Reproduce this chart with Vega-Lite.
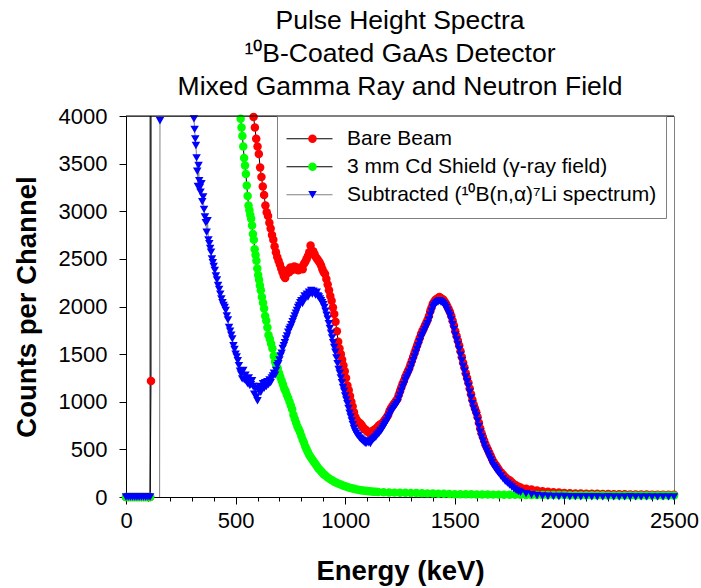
{
"$schema": "https://vega.github.io/schema/vega-lite/v6.json",
"width": 548, "height": 381,
"autosize": {"type": "none"},
"padding": {"left": 126, "top": 116, "right": 27, "bottom": 91},
"background": "white",
"config": {
 "font": "Liberation Sans",
 "view": {"stroke": "#808080", "strokeWidth": 1},
 "axis": {"labelFont": "Liberation Sans", "titleFont": "Liberation Sans", "domainColor": "black", "tickColor": "black", "labelColor": "black", "titleColor": "black", "grid": false, "labelFlush": false, "labelOverlap": false, "domainWidth": 1, "tickWidth": 1},
 "legend": {"labelFont": "Liberation Sans"}
},
"title": {"text": ["Pulse Height Spectra", "¹⁰B-Coated GaAs Detector", "Mixed Gamma Ray and Neutron Field"], "font": "Liberation Sans", "fontSize": 26.5, "fontWeight": "normal", "color": "black", "lineHeight": 33, "offset": 5},
"data": {"values": [
{"s":"a","e":0,"c":0},{"s":"a","e":10,"c":0},{"s":"a","e":20,"c":0},{"s":"a","e":30,"c":0},{"s":"a","e":40,"c":0},{"s":"a","e":50,"c":0},{"s":"a","e":60,"c":0},{"s":"a","e":70,"c":0},{"s":"a","e":80,"c":0},{"s":"a","e":90,"c":0},{"s":"a","e":100,"c":0},{"s":"a","e":110,"c":0},
{"s":"a","e":114,"c":1218},{"s":"a","e":118,"c":90000},{"s":"a","e":200,"c":60000},{"s":"a","e":300,"c":30000},{"s":"a","e":400,"c":15000},{"s":"a","e":480,"c":9000},{"s":"a","e":530,"c":6000},{"s":"a","e":560,"c":4800},{"s":"a","e":575,"c":4300},
{"s":"a","e":582,"c":3990},{"s":"a","e":588,"c":3880},{"s":"a","e":594,"c":3760},{"s":"a","e":600,"c":3680},{"s":"a","e":606,"c":3600},{"s":"a","e":612,"c":3460},{"s":"a","e":618,"c":3360},{"s":"a","e":624,"c":3260},{"s":"a","e":630,"c":3170},{"s":"a","e":636,"c":3060},{"s":"a","e":642,"c":2990},{"s":"a","e":648,"c":2950},{"s":"a","e":654,"c":2880},{"s":"a","e":660,"c":2820},{"s":"a","e":666,"c":2750},{"s":"a","e":672,"c":2700},{"s":"a","e":678,"c":2630},{"s":"a","e":684,"c":2570},{"s":"a","e":690,"c":2520},{"s":"a","e":696,"c":2480},{"s":"a","e":702,"c":2440},{"s":"a","e":708,"c":2400},{"s":"a","e":714,"c":2360},{"s":"a","e":720,"c":2320},{"s":"a","e":726,"c":2300},{"s":"a","e":732,"c":2340},{"s":"a","e":738,"c":2380},{"s":"a","e":744,"c":2360},{"s":"a","e":750,"c":2410},{"s":"a","e":756,"c":2380},{"s":"a","e":762,"c":2400},{"s":"a","e":768,"c":2420},{"s":"a","e":774,"c":2390},{"s":"a","e":780,"c":2410},{"s":"a","e":786,"c":2380},{"s":"a","e":792,"c":2400},{"s":"a","e":798,"c":2410},
{"s":"a","e":806,"c":2390},{"s":"a","e":812,"c":2450},{"s":"a","e":818,"c":2470},{"s":"a","e":824,"c":2500},{"s":"a","e":830,"c":2530},{"s":"a","e":836,"c":2570},{"s":"a","e":842,"c":2640},{"s":"a","e":848,"c":2560},{"s":"a","e":854,"c":2580},{"s":"a","e":860,"c":2550},{"s":"a","e":866,"c":2520},{"s":"a","e":872,"c":2500},{"s":"a","e":878,"c":2480},{"s":"a","e":884,"c":2460},{"s":"a","e":890,"c":2430},{"s":"a","e":896,"c":2390},
{"s":"a","e":902,"c":2360},{"s":"a","e":908,"c":2340},{"s":"a","e":914,"c":2290},{"s":"a","e":920,"c":2230},{"s":"a","e":926,"c":2170},{"s":"a","e":932,"c":2110},{"s":"a","e":938,"c":2060},{"s":"a","e":944,"c":1990},{"s":"a","e":950,"c":1920},{"s":"a","e":956,"c":1840},{"s":"a","e":962,"c":1740},{"s":"a","e":968,"c":1630},{"s":"a","e":974,"c":1560},{"s":"a","e":980,"c":1500},{"s":"a","e":986,"c":1440},{"s":"a","e":992,"c":1380},{"s":"a","e":998,"c":1320},{"s":"a","e":1004,"c":1250},{"s":"a","e":1010,"c":1170},{"s":"a","e":1016,"c":1120},{"s":"a","e":1022,"c":1060},{"s":"a","e":1028,"c":1000},{"s":"a","e":1034,"c":950},{"s":"a","e":1040,"c":890},{"s":"a","e":1046,"c":840},{"s":"a","e":1052,"c":810},{"s":"a","e":1058,"c":790},{"s":"a","e":1064,"c":780},{"s":"a","e":1070,"c":770},{"s":"a","e":1076,"c":750},{"s":"a","e":1082,"c":730},{"s":"a","e":1088,"c":710},{"s":"a","e":1094,"c":705},{"s":"a","e":1100,"c":690},{"s":"a","e":1106,"c":680},{"s":"a","e":1112,"c":670},{"s":"a","e":1118,"c":680},{"s":"a","e":1124,"c":690},{"s":"a","e":1130,"c":700},{"s":"a","e":1136,"c":710},{"s":"a","e":1142,"c":720},{"s":"a","e":1148,"c":735},{"s":"a","e":1154,"c":750},{"s":"a","e":1160,"c":760},{"s":"a","e":1166,"c":770},{"s":"a","e":1172,"c":780},{"s":"a","e":1178,"c":800},{"s":"a","e":1184,"c":820},{"s":"a","e":1190,"c":840},{"s":"a","e":1196,"c":860},
{"s":"a","e":1202,"c":900},{"s":"a","e":1208,"c":930},{"s":"a","e":1214,"c":950},{"s":"a","e":1220,"c":970},{"s":"a","e":1226,"c":990},{"s":"a","e":1232,"c":1010},{"s":"a","e":1238,"c":1030},{"s":"a","e":1244,"c":1070},{"s":"a","e":1250,"c":1110},{"s":"a","e":1256,"c":1150},{"s":"a","e":1262,"c":1190},{"s":"a","e":1268,"c":1220},{"s":"a","e":1274,"c":1260},{"s":"a","e":1280,"c":1290},{"s":"a","e":1286,"c":1320},{"s":"a","e":1292,"c":1350},{"s":"a","e":1298,"c":1390},{"s":"a","e":1304,"c":1430},{"s":"a","e":1310,"c":1470},{"s":"a","e":1316,"c":1510},{"s":"a","e":1322,"c":1550},{"s":"a","e":1328,"c":1590},{"s":"a","e":1334,"c":1630},{"s":"a","e":1340,"c":1670},{"s":"a","e":1346,"c":1710},{"s":"a","e":1352,"c":1740},{"s":"a","e":1358,"c":1770},{"s":"a","e":1364,"c":1800},{"s":"a","e":1370,"c":1830},{"s":"a","e":1376,"c":1860},{"s":"a","e":1382,"c":1900},{"s":"a","e":1388,"c":1950},{"s":"a","e":1394,"c":1990},{"s":"a","e":1400,"c":2030},{"s":"a","e":1406,"c":2050},{"s":"a","e":1412,"c":2070},{"s":"a","e":1418,"c":2080},{"s":"a","e":1424,"c":2090},{"s":"a","e":1430,"c":2100},{"s":"a","e":1436,"c":2090},{"s":"a","e":1442,"c":2080},{"s":"a","e":1448,"c":2070},{"s":"a","e":1454,"c":2050},{"s":"a","e":1460,"c":2030},{"s":"a","e":1466,"c":2000},{"s":"a","e":1472,"c":1970},{"s":"a","e":1478,"c":1940},{"s":"a","e":1484,"c":1900},{"s":"a","e":1490,"c":1850},{"s":"a","e":1496,"c":1800},{"s":"a","e":1502,"c":1740},{"s":"a","e":1508,"c":1690},{"s":"a","e":1514,"c":1640},{"s":"a","e":1520,"c":1590},{"s":"a","e":1526,"c":1530},{"s":"a","e":1532,"c":1470},{"s":"a","e":1538,"c":1410},{"s":"a","e":1544,"c":1360},{"s":"a","e":1550,"c":1300},{"s":"a","e":1556,"c":1250},{"s":"a","e":1562,"c":1200},{"s":"a","e":1568,"c":1140},{"s":"a","e":1574,"c":1080},{"s":"a","e":1580,"c":1020},{"s":"a","e":1586,"c":970},{"s":"a","e":1592,"c":930},{"s":"a","e":1598,"c":890},{"s":"a","e":1604,"c":840},{"s":"a","e":1610,"c":780},{"s":"a","e":1616,"c":720},{"s":"a","e":1622,"c":670},{"s":"a","e":1628,"c":630},{"s":"a","e":1634,"c":590},{"s":"a","e":1640,"c":550},{"s":"a","e":1646,"c":520},{"s":"a","e":1652,"c":490},{"s":"a","e":1658,"c":460},{"s":"a","e":1664,"c":430},{"s":"a","e":1670,"c":400},{"s":"a","e":1676,"c":370},{"s":"a","e":1682,"c":350},{"s":"a","e":1688,"c":330},{"s":"a","e":1694,"c":310},{"s":"a","e":1700,"c":290},
{"s":"a","e":1710,"c":260},{"s":"a","e":1720,"c":235},{"s":"a","e":1730,"c":210},{"s":"a","e":1740,"c":190},{"s":"a","e":1750,"c":175},{"s":"a","e":1760,"c":155},{"s":"a","e":1770,"c":135},{"s":"a","e":1780,"c":120},{"s":"a","e":1790,"c":108},{"s":"a","e":1800,"c":100},{"s":"a","e":1825,"c":88},{"s":"a","e":1850,"c":78},{"s":"a","e":1875,"c":68},{"s":"a","e":1900,"c":60},{"s":"a","e":1925,"c":55},{"s":"a","e":1950,"c":51},{"s":"a","e":1975,"c":47},{"s":"a","e":2000,"c":43},{"s":"a","e":2025,"c":40},{"s":"a","e":2050,"c":38},{"s":"a","e":2075,"c":36},{"s":"a","e":2100,"c":35},{"s":"a","e":2125,"c":34},{"s":"a","e":2150,"c":33},{"s":"a","e":2175,"c":32},{"s":"a","e":2200,"c":31},{"s":"a","e":2225,"c":30},{"s":"a","e":2250,"c":29},{"s":"a","e":2275,"c":28},{"s":"a","e":2300,"c":27},{"s":"a","e":2325,"c":27},{"s":"a","e":2350,"c":26},{"s":"a","e":2375,"c":26},{"s":"a","e":2400,"c":25},{"s":"a","e":2425,"c":25},{"s":"a","e":2450,"c":24},{"s":"a","e":2475,"c":24},{"s":"a","e":2500,"c":23},
{"s":"b","e":0,"c":0},{"s":"b","e":10,"c":0},{"s":"b","e":20,"c":0},{"s":"b","e":30,"c":0},{"s":"b","e":40,"c":0},{"s":"b","e":50,"c":0},{"s":"b","e":60,"c":0},{"s":"b","e":70,"c":0},{"s":"b","e":80,"c":0},{"s":"b","e":90,"c":0},{"s":"b","e":100,"c":0},{"s":"b","e":110,"c":0},
{"s":"b","e":114,"c":90000},{"s":"b","e":200,"c":60000},{"s":"b","e":300,"c":30000},{"s":"b","e":400,"c":14000},{"s":"b","e":480,"c":7000},{"s":"b","e":515,"c":4500},
{"s":"b","e":523,"c":3970},{"s":"b","e":527,"c":3880},{"s":"b","e":531,"c":3790},{"s":"b","e":535,"c":3680},{"s":"b","e":539,"c":3560},{"s":"b","e":543,"c":3480},{"s":"b","e":547,"c":3390},{"s":"b","e":551,"c":3270},{"s":"b","e":555,"c":3160},{"s":"b","e":559,"c":3060},{"s":"b","e":563,"c":3010},{"s":"b","e":567,"c":2960},{"s":"b","e":571,"c":2920},{"s":"b","e":575,"c":2850},{"s":"b","e":579,"c":2760},{"s":"b","e":583,"c":2700},{"s":"b","e":587,"c":2600},{"s":"b","e":591,"c":2540},{"s":"b","e":595,"c":2480},{"s":"b","e":599,"c":2400},{"s":"b","e":603,"c":2330},{"s":"b","e":607,"c":2280},{"s":"b","e":611,"c":2220},{"s":"b","e":615,"c":2170},{"s":"b","e":620,"c":2100},{"s":"b","e":625,"c":2040},{"s":"b","e":630,"c":1980},{"s":"b","e":635,"c":1900},{"s":"b","e":640,"c":1850},{"s":"b","e":645,"c":1780},{"s":"b","e":650,"c":1700},{"s":"b","e":656,"c":1660},{"s":"b","e":662,"c":1610},{"s":"b","e":668,"c":1560},{"s":"b","e":674,"c":1480},{"s":"b","e":680,"c":1420},{"s":"b","e":686,"c":1380},{"s":"b","e":692,"c":1350},{"s":"b","e":698,"c":1300},{"s":"b","e":704,"c":1260},{"s":"b","e":710,"c":1220},{"s":"b","e":716,"c":1180},{"s":"b","e":722,"c":1140},{"s":"b","e":728,"c":1110},{"s":"b","e":734,"c":1070},{"s":"b","e":740,"c":1040},{"s":"b","e":746,"c":1000},{"s":"b","e":752,"c":960},{"s":"b","e":758,"c":920},{"s":"b","e":764,"c":860},{"s":"b","e":770,"c":820},{"s":"b","e":776,"c":780},{"s":"b","e":782,"c":740},{"s":"b","e":788,"c":710},{"s":"b","e":794,"c":680},{"s":"b","e":800,"c":640},{"s":"b","e":806,"c":600},{"s":"b","e":812,"c":570},{"s":"b","e":818,"c":530},{"s":"b","e":824,"c":500},{"s":"b","e":830,"c":470},{"s":"b","e":836,"c":440},{"s":"b","e":842,"c":420},{"s":"b","e":848,"c":400},{"s":"b","e":854,"c":380},{"s":"b","e":860,"c":360},{"s":"b","e":866,"c":340},{"s":"b","e":872,"c":320},{"s":"b","e":878,"c":300},{"s":"b","e":884,"c":285},{"s":"b","e":890,"c":270},{"s":"b","e":896,"c":255},{"s":"b","e":902,"c":240},{"s":"b","e":910,"c":225},{"s":"b","e":920,"c":205},{"s":"b","e":930,"c":190},{"s":"b","e":940,"c":175},{"s":"b","e":950,"c":160},{"s":"b","e":960,"c":150},{"s":"b","e":970,"c":140},{"s":"b","e":980,"c":130},{"s":"b","e":990,"c":120},{"s":"b","e":1000,"c":112},{"s":"b","e":1010,"c":105},{"s":"b","e":1020,"c":98},{"s":"b","e":1030,"c":92},{"s":"b","e":1040,"c":86},{"s":"b","e":1050,"c":80},{"s":"b","e":1060,"c":76},{"s":"b","e":1070,"c":72},{"s":"b","e":1080,"c":68},{"s":"b","e":1090,"c":65},{"s":"b","e":1100,"c":62},{"s":"b","e":1110,"c":60},{"s":"b","e":1120,"c":58},{"s":"b","e":1130,"c":56},{"s":"b","e":1140,"c":54},
{"s":"b","e":1150,"c":53},{"s":"b","e":1175,"c":50},{"s":"b","e":1200,"c":48},{"s":"b","e":1225,"c":46},{"s":"b","e":1250,"c":45},{"s":"b","e":1275,"c":44},{"s":"b","e":1300,"c":42},{"s":"b","e":1325,"c":41},{"s":"b","e":1350,"c":40},{"s":"b","e":1375,"c":38},{"s":"b","e":1400,"c":36},{"s":"b","e":1425,"c":35},{"s":"b","e":1450,"c":33},{"s":"b","e":1475,"c":32},{"s":"b","e":1500,"c":30},{"s":"b","e":1525,"c":30},{"s":"b","e":1550,"c":29},{"s":"b","e":1575,"c":28},{"s":"b","e":1600,"c":27},{"s":"b","e":1625,"c":27},{"s":"b","e":1650,"c":26},{"s":"b","e":1675,"c":25},{"s":"b","e":1700,"c":25},{"s":"b","e":1725,"c":24},{"s":"b","e":1750,"c":24},{"s":"b","e":1775,"c":23},{"s":"b","e":1800,"c":23},{"s":"b","e":1825,"c":22},{"s":"b","e":1850,"c":22},{"s":"b","e":1875,"c":21},{"s":"b","e":1900,"c":21},{"s":"b","e":1925,"c":20},{"s":"b","e":1950,"c":20},{"s":"b","e":1975,"c":20},{"s":"b","e":2000,"c":20},{"s":"b","e":2025,"c":19},{"s":"b","e":2050,"c":19},{"s":"b","e":2075,"c":19},{"s":"b","e":2100,"c":18},{"s":"b","e":2125,"c":18},{"s":"b","e":2150,"c":18},{"s":"b","e":2175,"c":18},{"s":"b","e":2200,"c":17},{"s":"b","e":2225,"c":17},{"s":"b","e":2250,"c":17},{"s":"b","e":2275,"c":17},{"s":"b","e":2300,"c":17},{"s":"b","e":2325,"c":16},{"s":"b","e":2350,"c":16},{"s":"b","e":2375,"c":16},{"s":"b","e":2400,"c":16},{"s":"b","e":2425,"c":16},{"s":"b","e":2450,"c":15},{"s":"b","e":2475,"c":15},{"s":"b","e":2500,"c":15},
{"s":"c","e":0,"c":0},{"s":"c","e":10,"c":0},{"s":"c","e":20,"c":0},{"s":"c","e":30,"c":0},{"s":"c","e":40,"c":0},{"s":"c","e":50,"c":0},{"s":"c","e":60,"c":0},{"s":"c","e":70,"c":0},{"s":"c","e":80,"c":0},{"s":"c","e":90,"c":0},{"s":"c","e":100,"c":0},{"s":"c","e":110,"c":0},
{"s":"c","e":150,"c":-8000},{"s":"c","e":155,"c":3950},{"s":"c","e":158,"c":90000},{"s":"c","e":220,"c":40000},{"s":"c","e":280,"c":9000},{"s":"c","e":300,"c":5000},{"s":"c","e":306,"c":4300},
{"s":"c","e":310,"c":3970},{"s":"c","e":313,"c":3860},{"s":"c","e":316,"c":3760},{"s":"c","e":319,"c":3690},{"s":"c","e":322,"c":3560},{"s":"c","e":325,"c":3420},{"s":"c","e":328,"c":3260},{"s":"c","e":331,"c":3480},{"s":"c","e":334,"c":3320},{"s":"c","e":337,"c":3250},{"s":"c","e":340,"c":3200},{"s":"c","e":344,"c":3290},{"s":"c","e":348,"c":3100},{"s":"c","e":352,"c":3150},{"s":"c","e":356,"c":3020},{"s":"c","e":360,"c":2940},{"s":"c","e":364,"c":2880},{"s":"c","e":368,"c":2780},{"s":"c","e":372,"c":2900},{"s":"c","e":376,"c":2700},{"s":"c","e":380,"c":2660},{"s":"c","e":384,"c":2610},{"s":"c","e":388,"c":2570},{"s":"c","e":392,"c":2500},{"s":"c","e":396,"c":2460},{"s":"c","e":400,"c":2420},{"s":"c","e":405,"c":2380},{"s":"c","e":410,"c":2320},{"s":"c","e":415,"c":2280},{"s":"c","e":420,"c":2220},{"s":"c","e":425,"c":2180},{"s":"c","e":430,"c":2130},{"s":"c","e":435,"c":2080},{"s":"c","e":440,"c":2040},{"s":"c","e":445,"c":2010},{"s":"c","e":450,"c":1990},{"s":"c","e":455,"c":1960},{"s":"c","e":460,"c":1900},{"s":"c","e":465,"c":1860},{"s":"c","e":470,"c":1780},{"s":"c","e":475,"c":1740},{"s":"c","e":480,"c":1700},{"s":"c","e":485,"c":1660},{"s":"c","e":490,"c":1590},{"s":"c","e":495,"c":1550},{"s":"c","e":500,"c":1500},{"s":"c","e":505,"c":1470},{"s":"c","e":510,"c":1430},{"s":"c","e":515,"c":1380},{"s":"c","e":520,"c":1320},{"s":"c","e":525,"c":1290},{"s":"c","e":530,"c":1240},{"s":"c","e":535,"c":1330},{"s":"c","e":540,"c":1230},{"s":"c","e":545,"c":1280},{"s":"c","e":550,"c":1210},{"s":"c","e":555,"c":1190},{"s":"c","e":560,"c":1250},{"s":"c","e":565,"c":1170},{"s":"c","e":570,"c":1180},{"s":"c","e":575,"c":1220},{"s":"c","e":580,"c":1160},{"s":"c","e":585,"c":1080},{"s":"c","e":590,"c":1140},{"s":"c","e":595,"c":1050},{"s":"c","e":600,"c":1010},{"s":"c","e":605,"c":1120},{"s":"c","e":610,"c":1160},{"s":"c","e":615,"c":1100},{"s":"c","e":620,"c":1150},{"s":"c","e":625,"c":1190},{"s":"c","e":630,"c":1140},{"s":"c","e":635,"c":1200},{"s":"c","e":640,"c":1160},{"s":"c","e":645,"c":1210},{"s":"c","e":650,"c":1180},{"s":"c","e":655,"c":1230},{"s":"c","e":660,"c":1200},{"s":"c","e":665,"c":1250},{"s":"c","e":670,"c":1270},{"s":"c","e":675,"c":1300},{"s":"c","e":680,"c":1280},{"s":"c","e":685,"c":1330},{"s":"c","e":690,"c":1380},{"s":"c","e":695,"c":1400},{"s":"c","e":700,"c":1440},{"s":"c","e":705,"c":1480},{"s":"c","e":710,"c":1510},{"s":"c","e":715,"c":1560},{"s":"c","e":720,"c":1590},{"s":"c","e":725,"c":1620},{"s":"c","e":730,"c":1660},{"s":"c","e":735,"c":1690},{"s":"c","e":740,"c":1730},{"s":"c","e":745,"c":1760},{"s":"c","e":750,"c":1780},{"s":"c","e":755,"c":1810},{"s":"c","e":760,"c":1840},{"s":"c","e":765,"c":1870},{"s":"c","e":770,"c":1900},{"s":"c","e":775,"c":1930},{"s":"c","e":780,"c":1960},{"s":"c","e":785,"c":1990},{"s":"c","e":790,"c":2010},{"s":"c","e":795,"c":2040},{"s":"c","e":800,"c":2060},{"s":"c","e":805,"c":2030},{"s":"c","e":810,"c":2080},{"s":"c","e":815,"c":2110},{"s":"c","e":820,"c":2090},{"s":"c","e":825,"c":2130},{"s":"c","e":830,"c":2100},{"s":"c","e":835,"c":2150},{"s":"c","e":840,"c":2140},{"s":"c","e":845,"c":2170},{"s":"c","e":850,"c":2130},{"s":"c","e":855,"c":2160},{"s":"c","e":860,"c":2140},{"s":"c","e":865,"c":2120},{"s":"c","e":870,"c":2150},{"s":"c","e":875,"c":2110},{"s":"c","e":880,"c":2100},{"s":"c","e":885,"c":2080},{"s":"c","e":890,"c":2060},{"s":"c","e":895,"c":2040},{"s":"c","e":900,"c":2020},{"s":"c","e":905,"c":1990},{"s":"c","e":910,"c":1950},{"s":"c","e":915,"c":1910},{"s":"c","e":920,"c":1870},{"s":"c","e":925,"c":1820},{"s":"c","e":930,"c":1770},{"s":"c","e":935,"c":1720},{"s":"c","e":940,"c":1670},{"s":"c","e":945,"c":1620},{"s":"c","e":950,"c":1570},{"s":"c","e":955,"c":1520},{"s":"c","e":960,"c":1460},{"s":"c","e":965,"c":1400},{"s":"c","e":970,"c":1340},{"s":"c","e":975,"c":1300},{"s":"c","e":980,"c":1250},{"s":"c","e":985,"c":1200},{"s":"c","e":990,"c":1150},{"s":"c","e":995,"c":1110},{"s":"c","e":1000,"c":1060},{"s":"c","e":1005,"c":1020},{"s":"c","e":1010,"c":980},{"s":"c","e":1015,"c":930},{"s":"c","e":1020,"c":880},{"s":"c","e":1025,"c":840},{"s":"c","e":1030,"c":800},{"s":"c","e":1035,"c":760},{"s":"c","e":1040,"c":720},{"s":"c","e":1045,"c":690},{"s":"c","e":1050,"c":670},{"s":"c","e":1055,"c":650},{"s":"c","e":1060,"c":640},{"s":"c","e":1065,"c":620},{"s":"c","e":1070,"c":610},{"s":"c","e":1075,"c":600},{"s":"c","e":1080,"c":590},{"s":"c","e":1085,"c":580},{"s":"c","e":1090,"c":570},{"s":"c","e":1095,"c":560},{"s":"c","e":1100,"c":590},{"s":"c","e":1105,"c":570},{"s":"c","e":1110,"c":580},{"s":"c","e":1115,"c":560},{"s":"c","e":1120,"c":590},{"s":"c","e":1125,"c":600},{"s":"c","e":1130,"c":610},{"s":"c","e":1135,"c":620},{"s":"c","e":1140,"c":630},{"s":"c","e":1145,"c":650},{"s":"c","e":1150,"c":660},{"s":"c","e":1155,"c":670},{"s":"c","e":1160,"c":690},{"s":"c","e":1165,"c":700},{"s":"c","e":1170,"c":720},{"s":"c","e":1175,"c":740},{"s":"c","e":1180,"c":760},{"s":"c","e":1185,"c":780},{"s":"c","e":1190,"c":800},{"s":"c","e":1196,"c":830},
{"s":"c","e":1202,"c":860},{"s":"c","e":1208,"c":890},{"s":"c","e":1214,"c":910},{"s":"c","e":1220,"c":930},{"s":"c","e":1226,"c":950},{"s":"c","e":1232,"c":970},{"s":"c","e":1238,"c":990},{"s":"c","e":1244,"c":1030},{"s":"c","e":1250,"c":1070},{"s":"c","e":1256,"c":1110},{"s":"c","e":1262,"c":1150},{"s":"c","e":1268,"c":1180},{"s":"c","e":1274,"c":1220},{"s":"c","e":1280,"c":1250},{"s":"c","e":1286,"c":1280},{"s":"c","e":1292,"c":1310},{"s":"c","e":1298,"c":1350},{"s":"c","e":1304,"c":1390},{"s":"c","e":1310,"c":1430},{"s":"c","e":1316,"c":1470},{"s":"c","e":1322,"c":1510},{"s":"c","e":1328,"c":1550},{"s":"c","e":1334,"c":1590},{"s":"c","e":1340,"c":1630},{"s":"c","e":1346,"c":1670},{"s":"c","e":1352,"c":1700},{"s":"c","e":1358,"c":1730},{"s":"c","e":1364,"c":1760},{"s":"c","e":1370,"c":1790},{"s":"c","e":1376,"c":1820},{"s":"c","e":1382,"c":1860},{"s":"c","e":1388,"c":1910},{"s":"c","e":1394,"c":1950},{"s":"c","e":1400,"c":1990},{"s":"c","e":1406,"c":2010},{"s":"c","e":1412,"c":2030},{"s":"c","e":1418,"c":2040},{"s":"c","e":1424,"c":2050},{"s":"c","e":1430,"c":2060},{"s":"c","e":1436,"c":2050},{"s":"c","e":1442,"c":2040},{"s":"c","e":1448,"c":2030},{"s":"c","e":1454,"c":2010},{"s":"c","e":1460,"c":1990},{"s":"c","e":1466,"c":1960},{"s":"c","e":1472,"c":1930},{"s":"c","e":1478,"c":1900},{"s":"c","e":1484,"c":1860},{"s":"c","e":1490,"c":1810},{"s":"c","e":1496,"c":1760},{"s":"c","e":1502,"c":1700},{"s":"c","e":1508,"c":1650},{"s":"c","e":1514,"c":1600},{"s":"c","e":1520,"c":1550},{"s":"c","e":1526,"c":1490},{"s":"c","e":1532,"c":1430},{"s":"c","e":1538,"c":1370},{"s":"c","e":1544,"c":1320},{"s":"c","e":1550,"c":1260},{"s":"c","e":1556,"c":1210},{"s":"c","e":1562,"c":1160},{"s":"c","e":1568,"c":1100},{"s":"c","e":1574,"c":1040},{"s":"c","e":1580,"c":980},{"s":"c","e":1586,"c":930},{"s":"c","e":1592,"c":890},{"s":"c","e":1598,"c":850},{"s":"c","e":1604,"c":800},{"s":"c","e":1610,"c":740},{"s":"c","e":1616,"c":680},{"s":"c","e":1622,"c":630},{"s":"c","e":1628,"c":590},{"s":"c","e":1634,"c":550},{"s":"c","e":1640,"c":510},{"s":"c","e":1646,"c":480},{"s":"c","e":1652,"c":450},{"s":"c","e":1658,"c":420},{"s":"c","e":1664,"c":390},{"s":"c","e":1670,"c":360},{"s":"c","e":1676,"c":330},{"s":"c","e":1682,"c":310},{"s":"c","e":1688,"c":290},{"s":"c","e":1694,"c":270},{"s":"c","e":1700,"c":250},
{"s":"c","e":1710,"c":220},{"s":"c","e":1720,"c":190},{"s":"c","e":1730,"c":165},{"s":"c","e":1740,"c":145},{"s":"c","e":1750,"c":125},{"s":"c","e":1760,"c":105},{"s":"c","e":1770,"c":85},{"s":"c","e":1780,"c":70},{"s":"c","e":1790,"c":58},{"s":"c","e":1800,"c":48},{"s":"c","e":1825,"c":34},{"s":"c","e":1850,"c":24},{"s":"c","e":1875,"c":16},{"s":"c","e":1900,"c":11},{"s":"c","e":1925,"c":8},{"s":"c","e":1950,"c":6},{"s":"c","e":1975,"c":5},{"s":"c","e":2000,"c":5},{"s":"c","e":2025,"c":4},{"s":"c","e":2050,"c":4},{"s":"c","e":2075,"c":3},{"s":"c","e":2100,"c":4},{"s":"c","e":2125,"c":3},{"s":"c","e":2150,"c":3},{"s":"c","e":2175,"c":2},{"s":"c","e":2200,"c":3},{"s":"c","e":2225,"c":2},{"s":"c","e":2250,"c":2},{"s":"c","e":2275,"c":2},{"s":"c","e":2300,"c":3},{"s":"c","e":2325,"c":2},{"s":"c","e":2350,"c":2},{"s":"c","e":2375,"c":1},{"s":"c","e":2400,"c":2},{"s":"c","e":2425,"c":1},{"s":"c","e":2450,"c":2},{"s":"c","e":2475,"c":1},{"s":"c","e":2500,"c":1}
]},
"encoding": {
 "x": {"field": "e", "type": "quantitative", "scale": {"domain": [0, 2500], "nice": false},
  "axis": {"title": "Energy (keV)", "titleFontSize": 27.5, "titleFontWeight": "bold", "titlePadding": 26, "format": "d", "values": [0,100,200,300,400,500,600,700,800,900,1000,1100,1200,1300,1400,1500,1600,1700,1800,1900,2000,2100,2200,2300,2400,2500], "labelExpr": "datum.value % 500 === 0 ? datum.label : ''", "tickSize": {"condition": {"test": "datum.value % 500 === 0", "value": 7}, "value": 4}, "labelFontSize": 22, "labelPadding": 6}},
 "y": {"field": "c", "type": "quantitative", "scale": {"domain": [0, 4000], "nice": false},
  "axis": {"title": "Counts per Channel", "titleFontSize": 27.5, "titleFontWeight": "bold", "titlePadding": 17, "format": "d", "values": [0,500,1000,1500,2000,2500,3000,3500,4000], "tickSize": 7, "labelFontSize": 22, "labelPadding": 12}}
},
"layer": [
 {"mark": {"type": "line", "clip": true, "strokeWidth": 1},
  "encoding": {"stroke": {"field": "s", "type": "nominal", "scale": {"domain": ["a", "b", "c"], "range": ["#000000", "#000000", "#808080"]},
   "legend": {"title": null, "orient": "none", "legendX": 151, "legendY": 0, "symbolType": "stroke", "symbolSize": 2116, "symbolStrokeWidth": 1, "clipHeight": 27.5, "rowPadding": 0, "padding": 9, "labelFontSize": 21, "labelColor": "black", "labelOffset": 14, "labelLimit": 0, "strokeColor": "#808080", "labelExpr": "datum.value == 'a' ? 'Bare Beam' : datum.value == 'b' ? '3 mm Cd Shield (γ-ray field)' : 'Subtracted (¹⁰B(n,α)⁷Li spectrum)'"}}}},
 {"mark": {"type": "point", "filled": true, "opacity": 1, "strokeWidth": 0},
  "transform": [{"filter": "datum.c >= 0 && datum.c <= 4000"}],
  "encoding": {
   "fill": {"field": "s", "type": "nominal", "scale": {"range": ["#ff0000", "#00ff00", "#0000ff"]},
    "legend": {"title": null, "orient": "none", "legendX": 167, "legendY": 0, "clipHeight": 27.5, "rowPadding": 0, "padding": 9, "labelFontSize": 21, "labelExpr": "''", "symbolOpacity": 1, "symbolStrokeWidth": 0}},
   "shape": {"field": "s", "type": "nominal", "scale": {"range": ["circle", "circle", "triangle-down"]},
    "legend": {"title": null, "orient": "none", "legendX": 167, "legendY": 0, "clipHeight": 27.5, "rowPadding": 0, "padding": 9, "labelFontSize": 21, "labelExpr": "''", "symbolOpacity": 1, "symbolStrokeWidth": 0}},
   "size": {"field": "s", "type": "nominal", "scale": {"range": [72, 72, 105]},
    "legend": {"title": null, "orient": "none", "legendX": 167, "legendY": 0, "clipHeight": 27.5, "rowPadding": 0, "padding": 9, "labelFontSize": 21, "labelExpr": "''", "symbolOpacity": 1, "symbolStrokeWidth": 0}}
  }},
 {"data": {"values": [{"c": 4000}]}, "mark": {"type": "rule", "color": "black", "strokeWidth": 1}, "encoding": {"x": null, "y": {"field": "c", "type": "quantitative"}}}
]
}
